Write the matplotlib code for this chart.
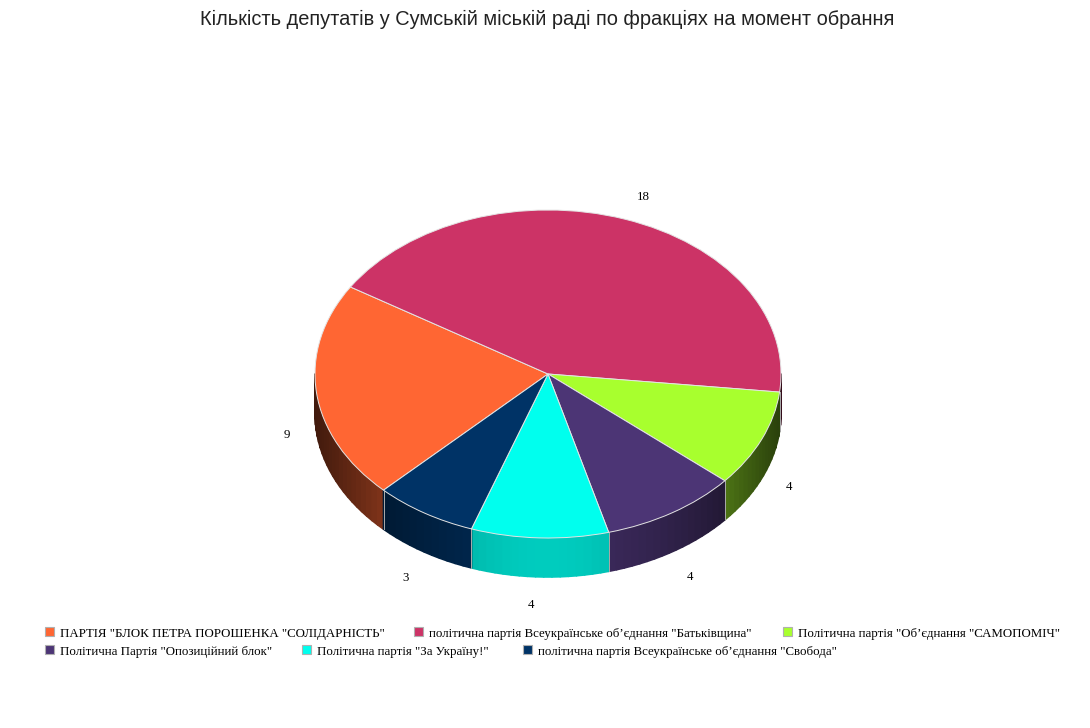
import numpy as np
import matplotlib
matplotlib.use("Agg")
import matplotlib.pyplot as plt
from matplotlib.collections import PolyCollection
from matplotlib.patches import Rectangle
from matplotlib.colors import to_rgb

title = "Кількість депутатів у Сумській міській раді по фракціях на момент обрання"
parties = [
    'ПАРТІЯ "БЛОК ПЕТРА ПОРОШЕНКА "СОЛІДАРНІСТЬ"',
    'політична партія Всеукраїнське об’єднання "Батьківщина"',
    'Політична партія "Об’єднання "САМОПОМІЧ"',
    'Політична Партія "Опозиційний блок"',
    'Політична партія "За Україну!"',
    'політична партія Всеукраїнське об’єднання "Свобода"',
]
seats = [9, 18, 4, 4, 4, 3]
colors = ["#FF6633", "#CC3366", "#A8FF2E", "#4C3575", "#00FFEE", "#003366"]

# where things sit on the 1090x728 canvas, in pixels
CX, CY, RX, RY, DEPTH = 548, 374, 233, 164, 39
START = 225.1
label_pos = [(287, 435), (643, 197), (789, 487), (690, 577), (531, 605), (406, 578)]
legend_pos = [(45, 632), (414, 632), (783, 632), (45, 650), (302, 650), (523, 650)]

fig = plt.figure(figsize=(10.9, 7.28), dpi=100, facecolor="white")

# pie axes: unit circle squashed into the ellipse
ax = fig.add_axes([0, 0, 1, 1])
depth = DEPTH / RY


def shade(x):
    # side wall is brightest at the front, dark toward the rim
    return 0.25 + 0.55 * np.cos(np.pi / 2 * np.clip(np.abs(x), 0, 1))


# side walls, only the part of each slice facing the viewer
ends = START - np.cumsum(seats) / sum(seats) * 360
starts = np.r_[START, ends[:-1]]
polys, fills, seams = [], [], []
for a0, a1, col in zip(starts, ends, colors):
    for shift in (0, -360):
        hi, lo = min(a0 + shift, 0), max(a1 + shift, -180)
        if hi <= lo:
            continue
        steps = np.linspace(lo, hi, max(int((hi - lo) / 2), 2) + 1)
        for t0, t1 in zip(np.radians(steps[:-1]), np.radians(steps[1:])):
            x0, y0, x1, y1 = np.cos(t0), np.sin(t0), np.cos(t1), np.sin(t1)
            polys.append([(x0, y0), (x1, y1), (x1, y1 - depth), (x0, y0 - depth)])
            fills.append(tuple(c * shade((x0 + x1) / 2) for c in to_rgb(col)))
        for t in np.radians([lo, hi]):
            seams.append([(np.cos(t), np.sin(t)), (np.cos(t), np.sin(t) - depth)])

ax.add_collection(PolyCollection(polys, facecolors=fills, edgecolors=fills, linewidths=1.2, zorder=1))
for s in seams:
    if -1 < s[0][1] < -0.02:
        ax.plot(*zip(*s), color="#a8a8a8", lw=0.7, zorder=2)

ax.pie(
    seats,
    colors=colors,
    startangle=START,
    counterclock=False,
    radius=1,
    wedgeprops={"edgecolor": "#e4e4e4", "linewidth": 0.7, "zorder": 3},
)
ax.set_aspect("auto")
ax.set_xlim(-CX / RX, (1090 - CX) / RX)
ax.set_ylim(-(728 - CY) / RY, CY / RY)
ax.axis("off")

# overlay in pixel coordinates for the texts and legend
over = fig.add_axes([0, 0, 1, 1])
over.set_xlim(0, 1090)
over.set_ylim(728, 0)
over.axis("off")
over.patch.set_visible(False)

over.text(547, 19, title, ha="center", va="center", fontsize=14.4,
          family="Liberation Sans", color="#222222")

for v, (x, y) in zip(seats, label_pos):
    over.text(x, y, str(v), ha="center", va="center", fontsize=9.3,
              family="Liberation Serif", color="black")

for name, col, (x, y) in zip(parties, colors, legend_pos):
    over.add_patch(Rectangle((x, y - 5), 9, 9, facecolor=col, edgecolor="#b0b0b0", lw=0.8))
    over.text(x + 15, y + 1.5, name, ha="left", va="center", fontsize=9.28,
              family="Liberation Serif", color="black")

fig.savefig("out.png", dpi=100)
